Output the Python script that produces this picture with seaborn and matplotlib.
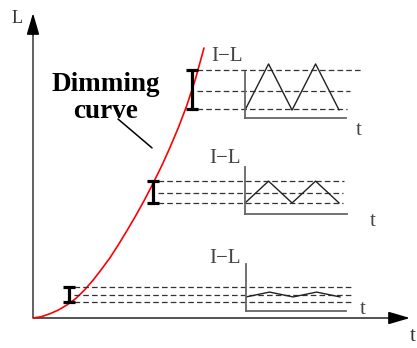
import numpy as np
import matplotlib
matplotlib.use("Agg")
import matplotlib.pyplot as plt
import seaborn as sns

sns.set_style("white")
plt.rcParams['font.family'] = ['Liberation Serif', 'DejaVu Serif']

# Dimming curve (t, L)
curve_t = [0, 0.5, 1, 1.5, 2, 2.5, 3, 3.5, 4, 4.5, 5, 5.5, 6, 6.5, 7, 7.5, 8, 8.5, 9, 9.5, 10]
curve_L = [0, 0.5, 1.6, 3.0, 4.9, 7.2, 10.3, 13.9, 18.0, 22.3, 27.2, 32.4, 37.8, 43.5,
           49.6, 56.0, 63.0, 70.5, 78.8, 88.5, 100.0]

# ripple markers on the curve: position and the three dashed levels
marker_t = [2.1, 7.0, 9.3]
level_low = [5.9, 42.6, 77.4]
level_mid = [8.5, 46.3, 84.1]
level_high = [11.5, 50.7, 91.9]

# triangle ripple in each I-L inset (bottom, middle, top)
wave_k = [0, 1, 2, 3, 4]
wave_low = [7.8, 42.6, 77.0]
wave_high = [9.6, 50.7, 94.1]

# layout (data units of the main axes)
PX_T, PX_L = 17.1, 2.7
W, H = 417, 348
OX, OY = 33, 318
dash_end = [[18.65, 18.71, 18.65], [18.19, 18.13, 18.13], [19.24, 18.54, 18.36]]
inset_box = [[12.46, 2.59, 5.84, 17.4], [12.40, 38.52, 5.96, 17.4], [12.40, 74.07, 5.90, 17.0]]
il_pos = [(11.23, 22.2), (11.23, 58.9), (11.35, 96.7)]
t_pos = [(19.3, 3.0), (19.88, 35.6), (19.06, 69.6)]

fig = plt.figure(figsize=(W / 100, H / 100), dpi=100)
ax = fig.add_axes([0, 0, 1, 1])
ax.set_xlim(-OX / PX_T, (W - OX) / PX_T)
ax.set_ylim((OY - H) / PX_L, OY / PX_L)
ax.axis('off')

# main axes with arrows
t_end = (410 - OX) / PX_T
L_end = (OY - 13) / PX_L
ax.plot([0, t_end - 0.8], [0, 0], color='#444444', lw=1.3, solid_capstyle='butt')
ax.plot([0, 0], [0, L_end - 5], color='#555555', lw=1.3, solid_capstyle='butt')
ax.annotate('', xy=(t_end, 0), xytext=(t_end - 1.2, 0),
            arrowprops=dict(arrowstyle='-|>,head_length=1.3,head_width=0.38',
                            mutation_scale=10, color='black', lw=1.2, shrinkA=0, shrinkB=0))
ax.annotate('', xy=(0, L_end), xytext=(0, L_end - 8),
            arrowprops=dict(arrowstyle='-|>,head_length=1.3,head_width=0.38',
                            mutation_scale=10, color='black', lw=1.2, shrinkA=0, shrinkB=0))
ax.text(-0.94, 111.1, 'L', fontsize=13, color='#333333', ha='center', va='center')
ax.text(22.2, -7.0, 't', fontsize=15, color='#333333', ha='center', va='center')

# dimming curve
sns.lineplot(x=curve_t, y=curve_L, ax=ax, color='red', lw=1.2, estimator=None)

# dashed levels
for i in range(3):
    levels = [level_high[i], level_mid[i], level_low[i]]
    for lv, xe in zip(levels, dash_end[i]):
        ax.plot([marker_t[i] + 0.3, xe], [lv, lv], color='#333333', lw=0.9,
                linestyle=(0, (4.5, 2.5)))

# I markers
mid = np.array(level_mid)
ax.errorbar(marker_t, mid, yerr=[mid - np.array(level_low), np.array(level_high) - mid],
            fmt='none', ecolor='black', elinewidth=2.3, capsize=4.5, capthick=2.3)

# label and pointer
ax.text(4.27, 81.5, 'Dimming\ncurve', fontsize=19.5, fontweight='bold', ha='center',
        va='center', linespacing=1.1, color='black')
ax.plot([4.97, 6.96], [73.7, 63.0], color='black', lw=1.1)

# insets with triangle ripple
for i in range(3):
    box = inset_box[i]
    ins = ax.inset_axes(box, transform=ax.transData)
    ins.patch.set_alpha(0)
    for s in ['top', 'right']:
        ins.spines[s].set_visible(False)
    for s in ['left', 'bottom']:
        ins.spines[s].set_color('#666666')
        ins.spines[s].set_linewidth(1.3)
    ins.set_xticks([])
    ins.set_yticks([])
    ins.set_xlim(0, 4 * box[2] / 5.5)
    ins.set_ylim(box[1], box[1] + box[3])
    wave = [wave_low[i], wave_high[i], wave_low[i], wave_high[i], wave_low[i]]
    sns.lineplot(x=wave_k, y=wave, ax=ins, color='#222222', lw=1.0, clip_on=False,
                 estimator=None)
    ins.set_xlabel('')
    ins.set_ylabel('')
    ax.text(il_pos[i][0], il_pos[i][1], 'I\u2212L', fontsize=15, color='#444444',
            ha='center', va='center')
    ax.text(t_pos[i][0], t_pos[i][1], 't', fontsize=15, color='#444444',
            ha='center', va='center')

fig.savefig('out.png', dpi=100)
